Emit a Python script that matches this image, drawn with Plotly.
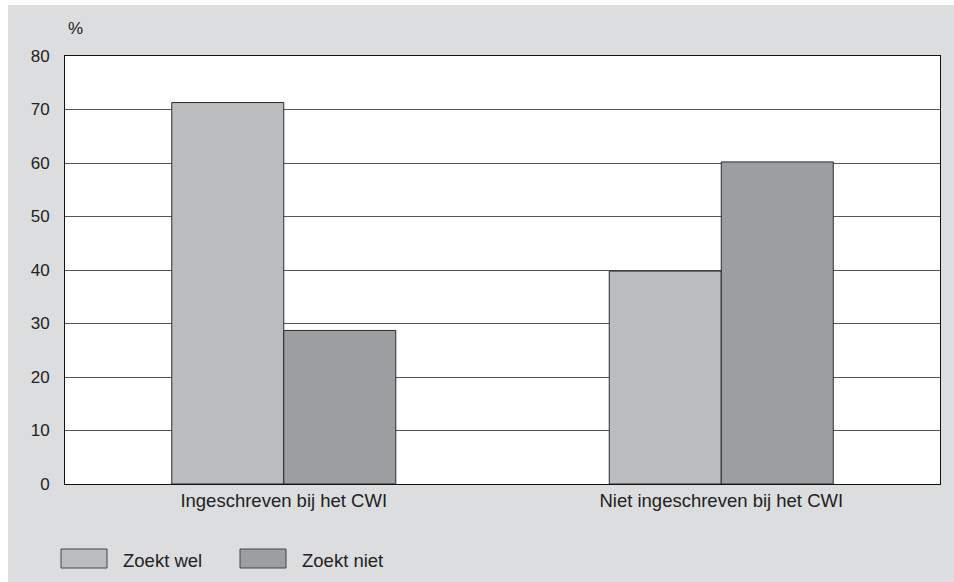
import plotly.graph_objects as go

categories = ["Ingeschreven bij het CWI", "Niet ingeschreven bij het CWI"]
series_names = ["Zoekt wel", "Zoekt niet"]
zoekt_wel = [71.3, 39.8]
zoekt_niet = [28.7, 60.2]
y_ticks = [0, 10, 20, 30, 40, 50, 60, 70, 80]

colors = ["#bbbcbe", "#9d9ea0"]
bg = "#dcdddf"
FONT = "Liberation Sans, Arial, Helvetica"

fig = go.Figure()
for name, vals, col in zip(series_names, [zoekt_wel, zoekt_niet], colors):
    fig.add_trace(go.Bar(
        x=categories, y=vals, name=name,
        marker=dict(color=col, line=dict(color="#2a2a2a", width=1)),
        showlegend=False,
    ))

L, R, T, B = 65, 14, 56, 98
W, H = 954, 582
pw, ph = W - L - R, H - T - B

def px_x(px):
    return (px - L) / pw

def px_y(py):
    return (H - B - py) / ph

shapes = [
    dict(type="rect", xref="paper", yref="paper", x0=px_x(0), x1=px_x(W), y0=px_y(5), y1=px_y(0),
         fillcolor="white", line=dict(width=0), layer="below"),
    dict(type="rect", xref="paper", yref="paper", x0=px_x(0), x1=px_x(8), y0=px_y(H), y1=px_y(0),
         fillcolor="white", line=dict(width=0), layer="below"),
]
annotations = [
    dict(text="%", xref="paper", yref="paper", x=px_x(66), y=px_y(28), xanchor="left", yanchor="middle",
         showarrow=False, font=dict(size=17, color="#222", family=FONT)),
]

legend_x = [61, 240]
for i, (name, col) in enumerate(zip(series_names, colors)):
    x0 = legend_x[i]
    shapes.append(dict(type="rect", xref="paper", yref="paper",
                       x0=px_x(x0), x1=px_x(x0 + 46), y0=px_y(568), y1=px_y(549),
                       fillcolor=col, line=dict(color="#444", width=1)))
    annotations.append(dict(text=name, xref="paper", yref="paper", x=px_x(x0 + 60), y=px_y(560),
                            xanchor="left", yanchor="middle", showarrow=False,
                            font=dict(size=18.5, color="#222", family=FONT)))

fig.update_layout(
    width=W, height=H,
    margin=dict(l=L, r=R, t=T, b=B),
    paper_bgcolor=bg, plot_bgcolor="white",
    barmode="group", bargap=0.488, bargroupgap=0,
    font=dict(family=FONT, size=17, color="#222"),
    xaxis=dict(showline=True, linecolor="#111", linewidth=1, mirror=True, showgrid=False,
               ticks="", tickfont=dict(size=18.5)),
    yaxis=dict(range=[0, 80], tickvals=y_ticks, showline=True, linecolor="#111", linewidth=1,
               mirror=True, showgrid=True, gridcolor="#555", gridwidth=1, zeroline=False,
               ticks="", ticklabelstandoff=11, tickfont=dict(size=17)),
    shapes=shapes, annotations=annotations,
)

fig.write_html(
    "out.html",
    config={"displayModeBar": False},
    post_script=(
        "document.documentElement.style.margin='0';document.documentElement.style.overflow='hidden';"
        "document.documentElement.style.background='" + bg + "';"
        "document.body.style.margin='0';document.body.style.padding='0';document.body.style.overflow='hidden';"
        "document.body.style.background='" + bg + "';"
    ),
)
